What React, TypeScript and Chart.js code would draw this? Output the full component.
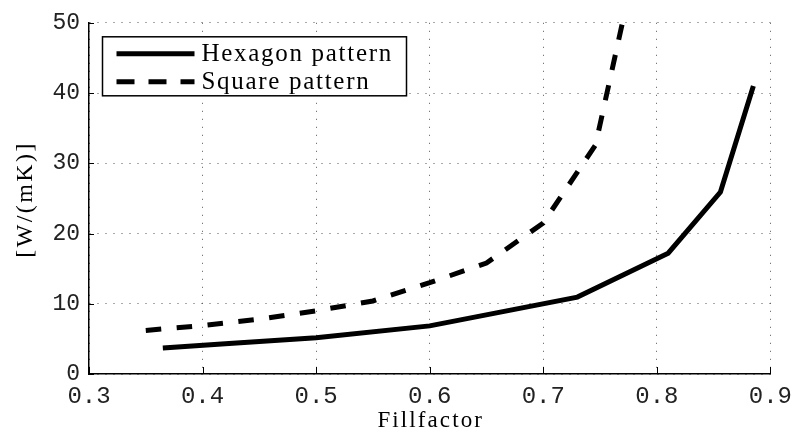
import React, { useEffect, useRef } from "react";
import { Chart, registerables } from "chart.js";

Chart.register(...registerables);

// Thermal conductivity versus fill factor for two packing patterns
const hexFill = [0.365, 0.42, 0.5, 0.6, 0.73, 0.81, 0.856, 0.885];
const hexK = [3.7, 4.3, 5.15, 6.85, 10.95, 17.2, 25.9, 41.0];
const sqFill = [0.35, 0.4, 0.45, 0.5, 0.55, 0.6, 0.65, 0.7, 0.746, 0.7697];
const sqK = [6.2, 6.9, 7.8, 9.0, 10.4, 13.0, 15.8, 21.5, 32.6, 50];

const seriesNames = ["Hexagon pattern", "Square pattern"];
const xTitle = "Fillfactor";
const yTitle = "[W/(mK)]";

const monoFont = "'Liberation Mono', 'DejaVu Sans Mono', monospace";
const serifFont = "'Liberation Serif', 'DejaVu Serif', serif";

const toPoints = (xs: number[], ys: number[]) => xs.map((x, i) => ({ x, y: ys[i] }));

// Inward major tick marks on the left and bottom axes
const innerTicks = {
  id: "innerTicks",
  afterDatasetsDraw(chart: any) {
    const { ctx, chartArea, scales } = chart;
    ctx.save();
    ctx.strokeStyle = "#000";
    ctx.lineWidth = 1;
    ctx.beginPath();
    scales.x.ticks.forEach((t: any) => {
      const px = Math.round(scales.x.getPixelForValue(t.value)) + 0.5;
      ctx.moveTo(px, chartArea.bottom);
      ctx.lineTo(px, chartArea.bottom - 7);
    });
    scales.y.ticks.forEach((t: any) => {
      const py = Math.round(scales.y.getPixelForValue(t.value)) + 0.5;
      ctx.moveTo(chartArea.left, py);
      ctx.lineTo(chartArea.left + 5, py);
    });
    ctx.stroke();
    ctx.restore();
  },
};

// Axis titles set in a wide serif face
const axisTitles = {
  id: "axisTitles",
  afterDraw(chart: any) {
    const { ctx, chartArea } = chart;
    ctx.save();
    ctx.fillStyle = "#000";
    ctx.textAlign = "center";
    ctx.textBaseline = "alphabetic";
    ctx.font = `23px ${serifFont}`;
    (ctx as any).letterSpacing = "2.1px";
    ctx.fillText(xTitle, (chartArea.left + chartArea.right) / 2 + 1, 427);
    ctx.translate(32, (chartArea.top + chartArea.bottom) / 2 + 1);
    ctx.rotate(-Math.PI / 2);
    ctx.font = `24px ${serifFont}`;
    (ctx as any).letterSpacing = "2.4px";
    ctx.fillText(yTitle, 0, 0);
    ctx.restore();
  },
};

// Boxed legend in the upper-left corner of the plot area
const boxLegend = {
  id: "boxLegend",
  afterDraw(chart: any) {
    const { ctx, chartArea } = chart;
    const x0 = chartArea.left + 13.5;
    const y0 = chartArea.top + 14;
    const w = 304;
    const h = 59;
    ctx.save();
    ctx.fillStyle = "#fff";
    ctx.fillRect(x0, y0, w, h);
    ctx.strokeStyle = "#000";
    ctx.lineWidth = 1.5;
    ctx.strokeRect(x0, y0, w, h);
    chart.data.datasets.forEach((ds: any, i: number) => {
      const cy = y0 + 17 + i * 28;
      ctx.beginPath();
      ctx.lineWidth = ds.borderWidth;
      ctx.strokeStyle = ds.borderColor;
      ctx.setLineDash(ds.borderDash ? [18, 14] : []);
      ctx.moveTo(x0 + 14, cy);
      ctx.lineTo(x0 + 92, cy);
      ctx.stroke();
      ctx.setLineDash([]);
      ctx.fillStyle = "#000";
      ctx.font = `25px ${serifFont}`;
      (ctx as any).letterSpacing = "1.7px";
      ctx.textBaseline = "alphabetic";
      ctx.fillText(ds.label, x0 + 99, cy + 7.5);
    });
    ctx.restore();
  },
};

export default function App() {
  const canvasRef = useRef<HTMLCanvasElement | null>(null);

  useEffect(() => {
    if (!canvasRef.current) return;
    const gridStyle = {
      color: "#555",
      lineWidth: 1,
      drawTicks: false,
      tickLength: 0,
    };
    const chart = new Chart(canvasRef.current, {
      type: "line",
      data: {
        datasets: [
          {
            label: seriesNames[0],
            data: toPoints(hexFill, hexK),
            borderColor: "#000",
            borderWidth: 5,
            pointRadius: 0,
            tension: 0,
            fill: false,
          },
          {
            label: seriesNames[1],
            data: toPoints(sqFill, sqK),
            borderColor: "#000",
            borderWidth: 5,
            borderDash: [15.5, 15.5],
            pointRadius: 0,
            tension: 0,
            fill: false,
          },
        ],
      },
      options: {
        animation: false,
        responsive: false,
        maintainAspectRatio: false,
        layout: { padding: { top: 18, right: 24, left: 0, bottom: 0 } },
        plugins: { legend: { display: false }, tooltip: { enabled: false } },
        scales: {
          x: {
            type: "linear",
            min: 0.3,
            max: 0.9,
            afterFit: (s: any) => {
              s.height = 65;
            },
            ticks: {
              stepSize: 0.1,
              padding: 8,
              color: "#222",
              font: { family: monoFont, size: 24 },
              callback: (v: any) => Number(v).toFixed(1),
            },
            grid: { ...gridStyle },
            border: { display: true, color: "#000", width: 1.5, dash: [1, 7] },
          },
          y: {
            type: "linear",
            min: 0,
            max: 50,
            afterFit: (s: any) => {
              s.width = 89;
            },
            ticks: {
              stepSize: 10,
              padding: 9,
              color: "#222",
              font: { family: monoFont, size: 23 },
            },
            grid: { ...gridStyle },
            border: { display: true, color: "#000", width: 1.5, dash: [1, 7] },
          },
        },
      } as any,
      plugins: [innerTicks, axisTitles, boxLegend],
    });
    return () => chart.destroy();
  }, []);

  return (
    <div style={{ position: "fixed", left: 0, top: 0, width: 800, height: 439, background: "#fff" }}>
      <canvas ref={canvasRef} width={800} height={439} />
    </div>
  );
}
